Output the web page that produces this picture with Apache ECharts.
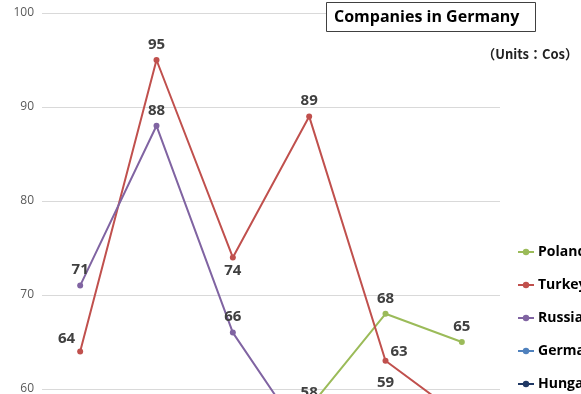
<!DOCTYPE html>
<html>
<head>
<meta charset="utf-8">
<script src="https://cdn.jsdelivr.net/npm/echarts@6/dist/echarts.min.js"></script>
<style>
  html, body { margin: 0; padding: 0; background: #fff; }
  #chart { width: 581px; height: 394px; }
</style>
</head>
<body>
<div id="chart"></div>
<script>
var categories = ['2012', '2013', '2014', '2015', '2016', '2017'];
var poland  = [null, null, null, 58, 68, 65];
var turkey  = [64, 95, 74, 89, 63, 57];
var russia  = [71, 88, 66, 54, 59, null];
var germany = [48, 50, 46, 44, 47, 45];
var hungary = [40, 42, 38, 36, 39, 41];

// label placement for turkey points (kept apart from values)
var turkeyLabel = [
    { position: 'left', distance: 2, offset: [0, -13] },
    { position: 'top' },
    { position: 'bottom', distance: 3 },
    { position: 'top' },
    { position: 'right', distance: 2, offset: [0, -9] },
    { position: 'top' }
];

var labelStyle = {
    show: true,
    position: 'top',
    fontSize: 15,
    fontWeight: 'bold',
    color: '#404040',
    fontFamily: 'Open Sans',
    distance: 5
};

function mkSeries(name, values, color, labels) {
    return {
        name: name,
        type: 'line',
        data: values.map(function (v, i) {
            if (labels && v !== null) {
                return { value: v, label: labels[i] };
            }
            return v;
        }),
        symbol: 'circle',
        symbolSize: 6,
        lineStyle: { width: 2, color: color },
        itemStyle: { color: color },
        label: labelStyle,
        connectNulls: false
    };
}

var myChart = echarts.init(document.getElementById('chart'));
var option = {
    animation: false,
    title: {
        text: 'Companies in Germany',
        left: 326,
        top: 2,
        padding: [7, 16, 7, 8],
        borderColor: '#404040',
        borderWidth: 1,
        backgroundColor: '#fff',
        textStyle: { fontSize: 16, fontWeight: 'bold', color: '#000', fontFamily: 'Open Sans' }
    },
    graphic: [{
        type: 'text',
        right: 3,
        top: 48,
        style: {
            text: '（Units：Cos）',
            fontFamily: 'Noto Sans CJK JP',
            fontSize: 13,
            fontWeight: 'bold',
            fill: '#222'
        }
    }],
    legend: {
        orient: 'vertical',
        left: 512,
        top: 240,
        height: 160,
        itemGap: 19,
        itemWidth: 16,
        itemHeight: 8,
        textStyle: { fontSize: 14, lineHeight: 14, fontWeight: 'bold', color: '#000', fontFamily: 'Open Sans', padding: [0, 0, 0, -1] },
        data: ['Poland', 'Turkey', 'Russia', 'Germany', 'Hungary']
    },
    grid: { left: 42, top: 13, width: 458, height: 940, containLabel: false, outerBoundsMode: 'none' },
    xAxis: {
        type: 'category',
        data: categories,
        boundaryGap: true,
        axisLine: { show: false },
        axisTick: { show: false }
    },
    yAxis: {
        type: 'value',
        min: 0,
        max: 100,
        interval: 10,
        axisLine: { show: false },
        axisTick: { show: false },
        axisLabel: { color: '#595959', fontSize: 12, margin: 8, fontFamily: 'Open Sans' },
        splitLine: { lineStyle: { color: '#D9D9D9', width: 1 } }
    },
    series: [
        mkSeries('Poland', poland, '#9BBB59'),
        mkSeries('Turkey', turkey, '#C0504D', turkeyLabel),
        mkSeries('Russia', russia, '#8064A2'),
        mkSeries('Germany', germany, '#4F81BD'),
        mkSeries('Hungary', hungary, '#1F3864')
    ]
};
myChart.setOption(option);
</script>
</body>
</html>
